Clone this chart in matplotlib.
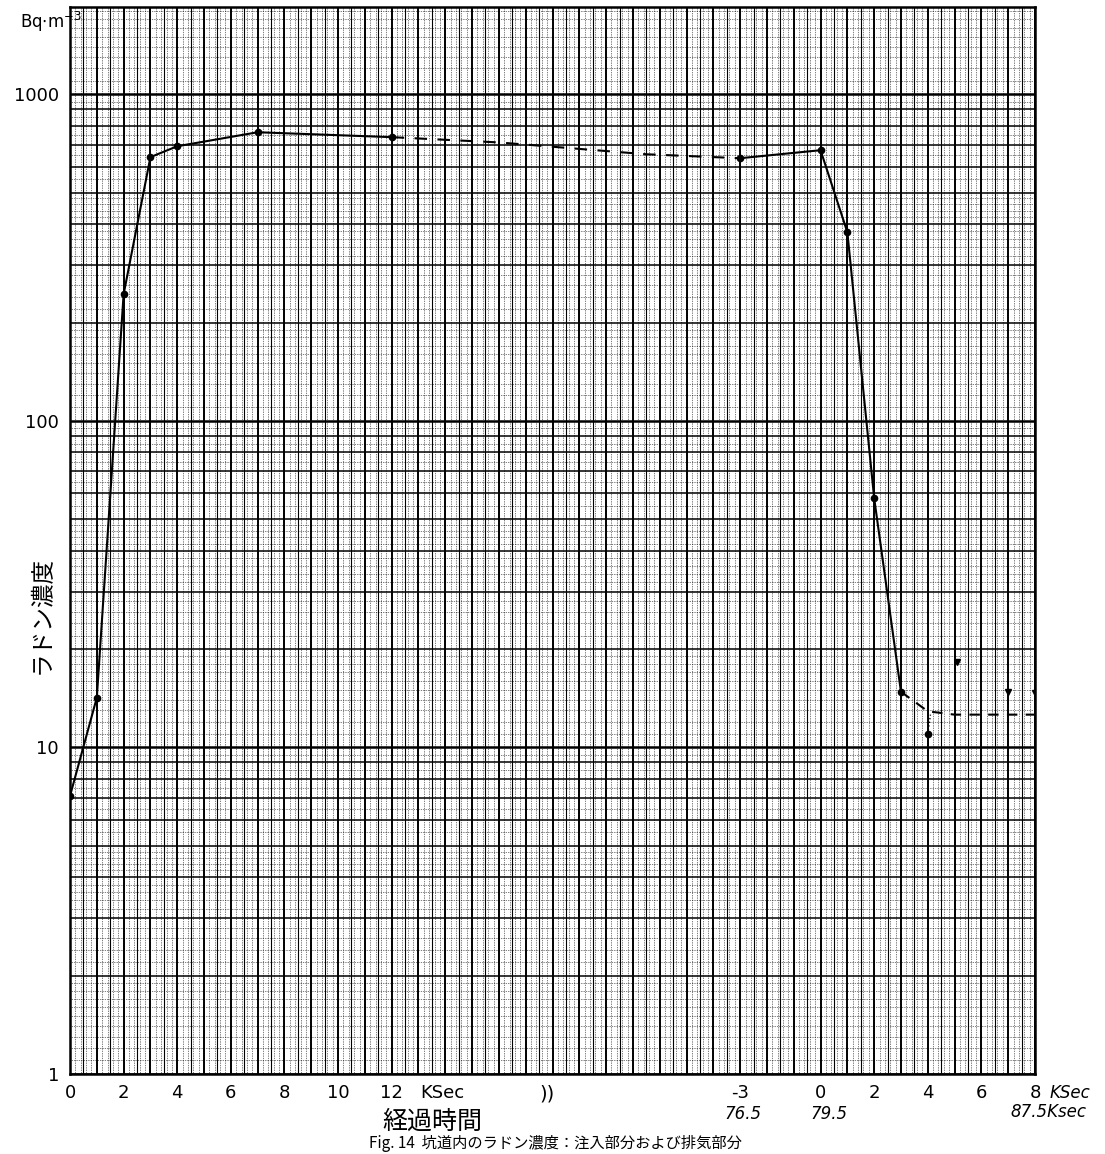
import numpy as np
import matplotlib.pyplot as plt

plt.rcParams['font.family'] = ['DejaVu Sans', 'Noto Sans CJK JP']

# time axis: first run 0..12 ksec, second run drawn after a break,
# its 0 (79.5 ksec) sits at position 28 on the paper
OFFSET2 = 28

# first part (injection)
t1 = [0, 1, 2, 3, 4, 7, 12]
v1 = [7.1, 14.2, 244, 642, 693, 765, 739]

# dashed bridge across the break
t_bridge = [12, 16, 21.5, -3 + OFFSET2]
v_bridge = [739, 712, 655, 637]

# second part (exhaust), times relative to 79.5 ksec
t2 = [-3, 0, 1, 2, 3]
v2 = [637, 674, 378, 58, 14.8]

# tail after exhaust
t_tail = [3, 4, 5, 8]
v_tail = [14.8, 12.9, 12.6, 12.6]
t_low = [4]
v_low = [11.0]
t_marks = [5.1, 7, 8]
v_marks = [18.3, 14.8, 14.7]

x1_ticks = [0, 2, 4, 6, 8, 10, 12]
x2_ticks = [-3, 0, 2, 4, 6, 8]
y_ticks = [1, 10, 100, 1000]

fig = plt.figure(figsize=(11.05, 11.54), dpi=100)
ax = fig.add_axes([70 / 1105, 80 / 1154, 965 / 1105, 1067 / 1154])
ax.set_yscale('log')
ax.set_xlim(0, 36)
ax.set_ylim(1, 1850)

# graph paper grid
for x in np.arange(0, 36.01, 0.2):
    ax.axvline(x, color='black', lw=0.5, ls=(0, (1, 1.5)), zorder=1)
for x in np.arange(0.5, 36, 1):
    ax.axvline(x, color='black', lw=0.8, zorder=1)
for x in np.arange(0, 37, 1):
    ax.axvline(x, color='black', lw=1.4, zorder=1)
for d in [1, 10, 100, 1000]:
    for k in range(1, 10):
        y = k * d
        if y > 1850:
            continue
        ax.axhline(y, color='black', lw=1.8 if k == 1 else 1.1, zorder=1)
    fine = list(np.arange(1.1, 2, 0.1)) + list(np.arange(2.2, 5, 0.2)) + list(np.arange(5.5, 10, 0.5))
    for f in fine:
        if round(f, 2) in (2.0, 3.0, 4.0, 5.0, 6.0, 7.0, 8.0, 9.0):
            continue
        if f * d <= 1850:
            ax.axhline(f * d, color='black', lw=0.5, ls=(0, (1, 1.5)), zorder=1)

# data
ax.plot(t1, v1, color='black', lw=1.5, marker='o', ms=4.5, zorder=3)
ax.plot(t_bridge, v_bridge, color='black', lw=1.5, ls=(0, (6, 5)), zorder=3)
ax.plot([t + OFFSET2 for t in t2], v2, color='black', lw=1.5, marker='o', ms=4.5, zorder=3)
ax.plot([t + OFFSET2 for t in t_tail], v_tail, color='black', lw=1.5, ls=(0, (5, 4)), zorder=3)
ax.plot([t + OFFSET2 for t in t_low], v_low, 'o', color='black', ms=4.5, zorder=3)
ax.plot([t_low[0] + OFFSET2, t_low[0] + OFFSET2 + 0.1], [v_low[0], v_tail[2]],
        color='black', lw=1.0, ls=':', zorder=3)
ax.plot([t + OFFSET2 for t in t_marks], v_marks, 'v', color='black', ms=4, zorder=3)

for s in ax.spines.values():
    s.set_linewidth(1.8)

# tick labels
ax.set_yticks(y_ticks, labels=['1', '10', '100', '1000'])
ax.yaxis.set_minor_locator(plt.NullLocator())
xt = x1_ticks + [t + OFFSET2 for t in x2_ticks]
xl = [str(t) for t in x1_ticks] + [str(t) for t in x2_ticks]
ax.set_xticks(xt, labels=xl)
ax.tick_params(length=0, labelsize=13, pad=7)
ax.tick_params(axis='y', pad=8)

xtr = ax.get_xaxis_transform()
ax.text(13.9, -0.0095, 'KSec', transform=xtr, ha='center', va='top', fontsize=13)
ax.text(37.3, -0.0095, 'KSec', transform=xtr, ha='center', va='top',
        fontsize=12, style='italic', clip_on=False)
ax.text(17.8, -0.0095, '))', transform=xtr, ha='center', va='top', fontsize=14)
ax.text(25.1, -0.029, '76.5', transform=xtr, ha='center', va='top',
        fontsize=12, style='italic')
ax.text(28.3, -0.029, '79.5', transform=xtr, ha='center', va='top',
        fontsize=12, style='italic')
ax.text(36.5, -0.027, '87.5Ksec', transform=xtr, ha='center', va='top',
        fontsize=12, style='italic', clip_on=False)

fig.text(20 / 1105, 1 - 22 / 1154, r'Bq$\cdot$m$^{-3}$', fontsize=12, va='center', ha='left')
fig.text(42 / 1105, 1 - 615 / 1154, 'ラドン濃度', rotation=90, fontsize=17,
         ha='center', va='center', family=['Noto Sans CJK JP'])
fig.text(432 / 1105, 1 - 1122 / 1154, '経過時間', fontsize=18, ha='center', va='center',
         family=['Noto Sans CJK JP'])
fig.text(555 / 1105, 2 / 1154, 'Fig. 14  坑道内のラドン濃度：注入部分および排気部分',
         fontsize=11, ha='center', va='bottom', family=['Noto Sans CJK JP', 'DejaVu Sans'])

fig.savefig('out.png', dpi=100)
